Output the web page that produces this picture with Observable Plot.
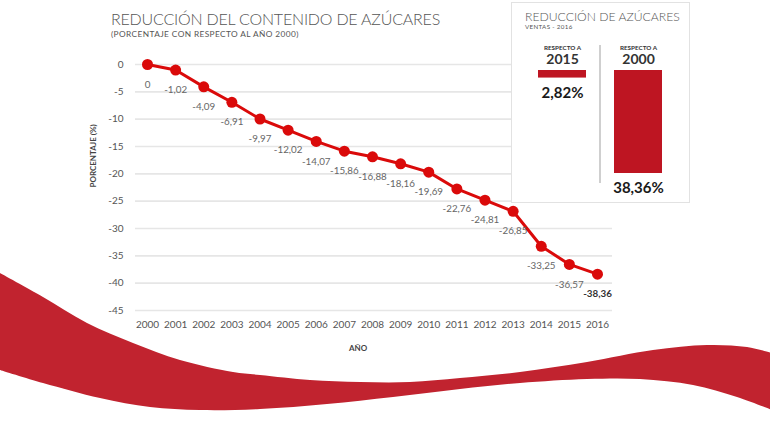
<!DOCTYPE html>
<html><head><meta charset="utf-8">
<script src="https://cdn.jsdelivr.net/npm/d3@7"></script>
<script src="https://cdn.jsdelivr.net/npm/@observablehq/plot@0.6"></script>
<style>
body{margin:0;background:#fff;}
#wrap{position:relative;width:770px;height:425px;overflow:hidden;font-family:Lato,"Noto Sans",sans-serif;background:#fff;}
#wave,#chart{position:absolute;left:0;top:0;}
.t{position:absolute;white-space:nowrap;line-height:1;}
#title{left:111px;top:10.5px;font-size:16px;letter-spacing:-0.2px;font-weight:300;color:#555;}
#subtitle{left:111px;top:29.5px;font-size:8.3px;letter-spacing:0.4px;color:#555;}
#inset{position:absolute;left:511px;top:2px;width:177px;height:199px;border:1px solid #e2e2e2;background:#fff;}
#inset svg{position:absolute;left:0;top:0;}
#ititle{left:13px;top:8px;font-size:12.2px;font-weight:300;color:#555;}
#isub{left:13px;top:20.5px;font-size:6.2px;letter-spacing:0.35px;color:#555;}
#sep{position:absolute;left:87px;top:42px;width:2px;height:138px;background:#cfcfcf;}
</style></head>
<body>
<div id="wrap">
  <svg id="wave" width="770" height="425"></svg>
  <div id="chart"></div>
  <div class="t" id="title">REDUCCIÓN DEL CONTENIDO DE AZÚCARES</div>
  <div class="t" id="subtitle">(PORCENTAJE CON RESPECTO AL AÑO 2000)</div>
  <div id="inset">
    <div class="t" id="ititle">REDUCCIÓN DE AZÚCARES</div>
    <div class="t" id="isub">VENTAS - 2016</div>
    <div id="sep"></div>
  </div>
</div>
<script>
// ---- data ----
const years = [2000,2001,2002,2003,2004,2005,2006,2007,2008,2009,2010,2011,2012,2013,2014,2015,2016];
const values = [0,-1.02,-4.09,-6.91,-9.97,-12.02,-14.07,-15.86,-16.88,-18.16,-19.69,-22.76,-24.81,-26.85,-33.25,-36.57,-38.36];
const yTicks = [0,-5,-10,-15,-20,-25,-30,-35,-40,-45];
const insetYears = ["2015","2000"];
const insetValues = [2.82,38.36];
const insetHeader = "RESPECTO A";

// ---- decorative wave (background) ----
const waveUpper = [[0,273],[43,297],[87,323],[133,343],[180,360],[233,372],[260,375],[310,380],[360,382],[410,382],[460,378],[520,372],[587,362],[653,350],[707,345],[747,347],[772,353]];
const waveLower = [[772,410],[737,397],[693,385],[640,379],[587,379],[520,383],[460,389],[393,397],[327,404],[260,409],[200,410],[150,407],[100,398],[43,383],[0,370]];
const lg = d3.line().curve(d3.curveCatmullRom);
d3.select("#wave").append("path")
  .attr("d", lg(waveUpper) + "L" + lg(waveLower).slice(1) + "Z")
  .attr("fill", "#c1232f");

const fmt = v => v === 0 ? "0" : v.toFixed(2).replace(".", ",");
const data = years.map((y,i) => ({year:y, value:values[i], label:fmt(values[i])}));
const n = data.length;
const red = "#da0a0a";
const font = "Lato, 'Noto Sans', sans-serif";

const chart = Plot.plot({
  width:770, height:425,
  marginLeft:135, marginRight:158, marginTop:64, marginBottom:115,
  style:{fontFamily:font, fontSize:"10px", color:"#555", background:"transparent", overflow:"visible"},
  x:{domain:[2000,2016], insetLeft:12, insetRight:15},
  y:{domain:[-45,0]},
  marks:[
    Plot.ruleY(yTicks,{stroke:"#e6e6e6", strokeWidth:1.6}),
    Plot.axisX({ticks:years, tickSize:0, tickPadding:10, tickFormat:d=>String(d), label:null, fill:"#555"}),
    Plot.axisY({ticks:yTicks, tickSize:0, tickPadding:12, tickFormat:d=>String(d), label:null, fill:"#555"}),
    Plot.line(data,{x:"year", y:"value", stroke:red, strokeWidth:3}),
    Plot.dot(data,{x:"year", y:"value", r:5.5, fill:red}),
    Plot.text(data,{filter:(d,i)=>i<n-1, x:"year", y:"value", text:"label", dy:20, fill:"#666", fontSize:9.8}),
    Plot.text(data,{filter:(d,i)=>i===n-1, x:"year", y:"value", text:"label", dy:20, fill:"#333", fontWeight:"bold", fontSize:9.8}),
    Plot.text(["AÑO"],{frameAnchor:"bottom", lineAnchor:"middle", dx:-16, dy:38, text:d=>d, fontWeight:"bold", fontSize:8, fill:"#444"}),
    Plot.text(["PORCENTAJE (%)"],{frameAnchor:"left", lineAnchor:"middle", dx:-42, rotate:-90, text:d=>d, fontWeight:"bold", fontSize:8, fill:"#444"})
  ]
});
document.getElementById("chart").appendChild(chart);

const idata = insetYears.map((k,i)=>({k, v:insetValues[i], label:insetValues[i].toFixed(2).replace(".",",")+"%"}));
const inset = Plot.plot({
  width:177, height:199,
  marginLeft:0, marginRight:1, marginTop:67, marginBottom:24.6,
  style:{fontFamily:font, background:"transparent", overflow:"visible"},
  x:{type:"band", domain:insetYears, paddingInner:0.364, paddingOuter:0.325, axis:null},
  y:{domain:[0,40], reverse:true, axis:null},
  marks:[
    Plot.barY(idata,{x:"k", y:"v", fill:"#be1522", inset:0}),
    Plot.text(idata,{x:"k", frameAnchor:"top", lineAnchor:"middle", dy:-22.5, text:()=>insetHeader, fontSize:6.3, fontWeight:"bold", fill:"#333"}),
    Plot.text(idata,{x:"k", frameAnchor:"top", lineAnchor:"middle", dy:-10.5, text:"k", fontSize:14, fontWeight:"bold", fill:"#333"}),
    Plot.text(idata,{x:"k", y:"v", lineAnchor:"middle", dy:15, text:"label", fontSize:15, fontWeight:"bold", fill:"#1a1a1a"})
  ]
});
document.getElementById("inset").appendChild(inset);
</script>
</body></html>
